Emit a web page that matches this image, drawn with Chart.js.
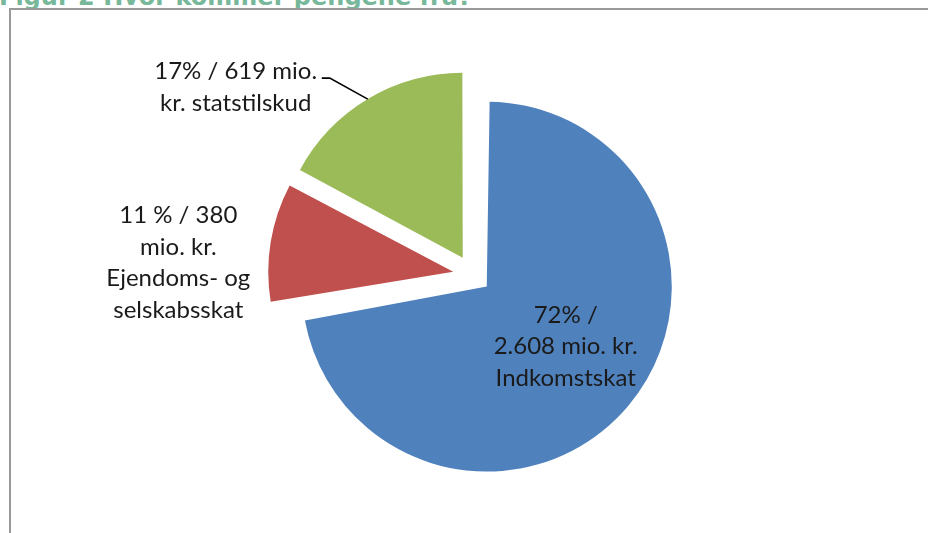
<!DOCTYPE html>
<html>
<head>
<meta charset="utf-8">
<script src="https://cdn.jsdelivr.net/npm/chart.js@4"></script>
<style>
  html, body { margin: 0; padding: 0; background: #fff; overflow: hidden; }
  .wrap { position: relative; width: 928px; height: 533px; }
  .fig-title { position: absolute; left: -1px; top: -15px; font: bold 24px "DejaVu Sans", sans-serif; line-height: 24px; color: #78b89a; white-space: nowrap; }
  .frame { position: absolute; left: 9px; top: 8px; right: -10px; bottom: -10px; border-left: 2px solid #999; border-top: 2px solid #999; }
  canvas { position: absolute; left: 0; top: 0; }
</style>
</head>
<body>
<div class="wrap">
  <div class="fig-title">Figur 2 Hvor kommer pengene fra?</div>
  <div class="frame"></div>
  <canvas id="pie" width="928" height="533"></canvas>
</div>
<script>
  // mio. kr.
  var categories = ['Indkomstskat', 'Ejendoms- og selskabsskat', 'Statstilskud'];
  var amounts = [2608, 380, 619];
  var colors = ['#4F81BD', '#C0504D', '#9BBB59'];
  var labelLines = [
    ['72% /', '2.608 mio. kr.', 'Indkomstskat'],
    ['11 % / 380', 'mio. kr.', 'Ejendoms- og', 'selskabsskat'],
    ['17% / 619 mio.', 'kr. statstilskud']
  ];

  // where each label sits: turn from the slice mid-angle (deg), distance in radii
  var labelPos = [
    { turn: -2.9, dist: 0.536 },
    { turn: -7.4, dist: 1.487 },
    { turn: -22.2, dist: 1.535, leader: true }
  ];
  var lineHeight = 31.5;

  var pieLabels = {
    id: 'pieLabels',
    beforeDatasetsDraw: function (chart) {
      // exploded slices get a bigger radius in Chart.js, keep them all equal
      var meta = chart.getDatasetMeta(0);
      var base = meta.controller.outerRadius;
      meta.data.forEach(function (arc) {
        var off = (arc.options.offset || 0) / 4;
        var span = arc.endAngle - arc.startAngle;
        arc.outerRadius = base - off * (1 - Math.sin(Math.min(Math.PI, span)));
      });
    },
    afterDatasetsDraw: function (chart) {
      var ctx = chart.ctx;
      var meta = chart.getDatasetMeta(0);
      var base = meta.controller.outerRadius;
      ctx.save();
      ctx.font = '24px Lato, "Open Sans", sans-serif';
      ctx.fillStyle = '#1a1a1a';
      ctx.textAlign = 'center';
      ctx.textBaseline = 'middle';
      meta.data.forEach(function (arc, i) {
        var mid = (arc.startAngle + arc.endAngle) / 2;
        var off = (arc.options.offset || 0) / 4;
        var cx = arc.x + Math.cos(mid) * off;
        var cy = arc.y + Math.sin(mid) * off;
        var p = labelPos[i];
        var a = mid + p.turn * Math.PI / 180;
        var lx = cx + Math.cos(a) * base * p.dist;
        var ly = cy + Math.sin(a) * base * p.dist;
        var lines = labelLines[i];
        lines.forEach(function (t, k) {
          ctx.fillText(t, lx, ly + (k - (lines.length - 1) / 2) * lineHeight);
        });
        if (p.leader) {
          var ex = cx + Math.cos(mid) * base;
          var ey = cy + Math.sin(mid) * base;
          ctx.strokeStyle = '#000';
          ctx.lineWidth = 1.6;
          ctx.beginPath();
          ctx.moveTo(ex, ey);
          ctx.lineTo(ex - 38, ey - 21);
          ctx.lineTo(ex - 46, ey - 21);
          ctx.stroke();
        }
      });
      ctx.restore();
    }
  };

  new Chart(document.getElementById('pie').getContext('2d'), {
    type: 'pie',
    data: {
      labels: categories,
      datasets: [{
        data: amounts,
        backgroundColor: colors,
        borderWidth: 0,
        offset: [72, 80, 80]
      }]
    },
    options: {
      responsive: false,
      animation: false,
      events: [],
      radius: 185,
      layout: { padding: { left: 100, right: 82, top: 60, bottom: 43 } },
      plugins: {
        legend: { display: false },
        tooltip: { enabled: false }
      }
    },
    plugins: [pieLabels]
  });
</script>
</body>
</html>
